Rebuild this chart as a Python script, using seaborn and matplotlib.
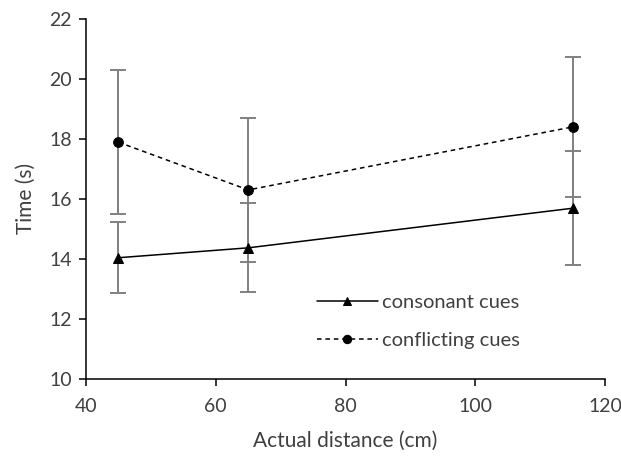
import pandas as pd
import matplotlib.pyplot as plt
import seaborn as sns

distance = [45, 65, 115]
consonant = [14.04, 14.37, 15.69]
consonant_err = [1.18, 1.48, 1.90]
conflicting = [17.89, 16.30, 18.40]
conflicting_err = [2.40, 2.40, 2.33]

df = pd.DataFrame({
    'distance': distance * 2,
    'time': consonant + conflicting,
    'err': consonant_err + conflicting_err,
    'cond': ['consonant cues'] * 3 + ['conflicting cues'] * 3,
})

sns.set_style('ticks')
plt.rcParams['font.family'] = ['Lato', 'DejaVu Sans']

fig = plt.figure(figsize=(6.21, 4.61), dpi=100)
ax = fig.add_axes([0.1385, 0.178, 0.836, 0.781])

for cond in ['consonant cues', 'conflicting cues']:
    sub = df[df['cond'] == cond]
    ax.errorbar(sub['distance'], sub['time'], yerr=sub['err'], fmt='none',
                ecolor='#808080', elinewidth=1.4, capsize=6, capthick=1.4, zorder=1)

sns.lineplot(data=df, x='distance', y='time', style='cond', markers={'consonant cues': '^', 'conflicting cues': 'o'},
             dashes={'consonant cues': '', 'conflicting cues': (3, 2.5)}, color='black', linewidth=1.1,
             markersize=7, markeredgecolor='black', ax=ax, zorder=3)

ax.set_xlim(40, 120)
ax.set_ylim(10, 22)
ax.set_xticks([40, 60, 80, 100, 120])
ax.set_yticks([10, 12, 14, 16, 18, 20, 22])
ax.tick_params(labelsize=14, colors='#404040', length=5, width=1.1, pad=5)
ax.tick_params(axis='x', pad=9)
ax.tick_params(axis='both', color='black')
for s in ['left', 'bottom']:
    ax.spines[s].set_color('black')
    ax.spines[s].set_linewidth(1.1)
sns.despine(ax=ax)
ax.set_xlabel('Actual distance (cm)', fontsize=15, color='#404040', labelpad=11)
ax.set_ylabel('Time (s)', fontsize=15, color='#404040', labelpad=10)

leg = ax.legend(title=None, frameon=False, fontsize=14.5, handlelength=3.0, handletextpad=0.2,
                labelspacing=1.05, loc='center', bbox_to_anchor=(0.64, 0.16))
for t in leg.get_texts():
    t.set_color('#404040')
for h in leg.legend_handles:
    h.set_markersize(6)

fig.savefig('out.png', dpi=100)
